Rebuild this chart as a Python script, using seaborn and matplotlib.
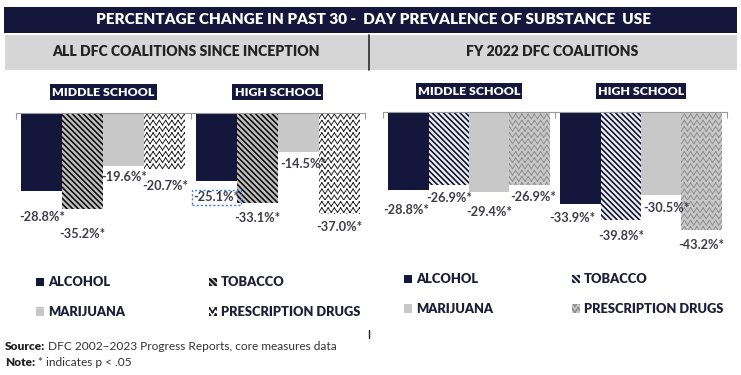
import warnings
import numpy as np
import pandas as pd
import matplotlib
matplotlib.use('Agg')
import matplotlib.pyplot as plt
import matplotlib.hatch as mhatch
from matplotlib.path import Path
from matplotlib.patches import Rectangle, Patch
import seaborn as sns

warnings.filterwarnings('ignore', message='hatch must consist')

# data
schools = ['MIDDLE SCHOOL', 'HIGH SCHOOL']
substances = ['ALCOHOL', 'TOBACCO', 'MARIJUANA', 'PRESCRIPTION DRUGS']
all_ms = [-28.8, -35.2, -19.6, -20.7]
all_hs = [-25.1, -33.1, -14.5, -37.0]
fy_ms = [-28.8, -26.9, -29.4, -26.9]
fy_hs = [-33.9, -39.8, -30.5, -43.2]

title = 'PERCENTAGE CHANGE IN PAST 30 -  DAY PREVALENCE OF SUBSTANCE  USE'
panel_titles = ['ALL DFC COALITIONS SINCE INCEPTION', 'FY 2022 DFC COALITIONS']

NAVY = '#14163b'
GRAY = '#c8c8c8'
BAND = '#d6d6d6'
TXT = '#3c3c4a'


class ZigZagHatch(mhatch.HatchPatternBase):
    # rows of small zigzags, like the Excel "zigzag" pattern fill.
    # drawn as separate 2-point segments so agg's hatch fill has no area
    def __init__(self, hatch, density):
        self.rows = int(hatch.count('z') * density * 2.8)
        self.num_vertices = self.rows * self.rows * 4

    def set_vertices_and_codes(self, vertices, codes):
        n = self.rows
        step = 1.0 / n
        xs = np.linspace(0, 1, 2 * n + 1)
        ys = np.where(np.arange(2 * n + 1) % 2 == 0, 0.0, 0.75 * step)
        k = 0
        for i in range(n):
            for j in range(2 * n):
                vertices[k] = (xs[j], i * step + ys[j])
                vertices[k + 1] = (xs[j + 1], i * step + ys[j + 1])
                codes[k] = Path.MOVETO
                codes[k + 1] = Path.LINETO
                k += 2


mhatch._hatch_types.append(ZigZagHatch)

# per panel style: (face, hatch, hatch colour, hatch lw)
styles = [
    [(NAVY, None, NAVY, 1), ('#111111', '\\\\\\\\\\\\', '#c4c4c4', 1.6),
     (GRAY, None, GRAY, 1), ('white', 'z', '#222222', 0.7)],
    [(NAVY, None, NAVY, 1), (NAVY, '\\\\\\\\\\\\', '#f2f2f2', 1.6),
     (GRAY, None, GRAY, 1), (GRAY, 'z', '#8e8e8e', 0.7)],
]

# label nudges in pixels (dx, dy) below the bar end, per school then substance
nudges = [
    [[(0, -26), (0, -25), (0, -11), (0, -17)], [(0, -16), (0, -15), (5, -12), (0, -13)]],
    [[(-2, -20), (0, -13), (0, -20), (4, -12)], [(-8, -14), (0, -16), (5, -13), (0, -15)]],
]

sns.set_style('white')
plt.rcParams['font.family'] = ['Lato', 'DejaVu Sans']
plt.rcParams['hatch.linewidth'] = 1.2

fig = plt.figure(figsize=(7.41, 3.75), dpi=100)
W, H = 741, 375


def fx(px):
    return px / W


def fy(px):
    return 1 - px / H


def set_hatch_lw(p, lw):
    if hasattr(p, 'set_hatch_linewidth'):
        p.set_hatch_linewidth(lw)
    else:
        p._hatch_linewidth = lw


# header bands
fig.patches.append(Rectangle((fx(4), fy(33)), fx(733), 26 / H, transform=fig.transFigure,
                             facecolor=NAVY, edgecolor='none'))
fig.patches.append(Rectangle((fx(5), fy(70)), fx(363), 35 / H, transform=fig.transFigure,
                             facecolor=BAND, edgecolor='none'))
fig.patches.append(Rectangle((fx(370), fy(70)), fx(367), 35 / H, transform=fig.transFigure,
                             facecolor=BAND, edgecolor='none'))
fig.add_artist(plt.Line2D([fx(368.5)] * 2, [fy(35), fy(70)], transform=fig.transFigure,
                          color='#222222', lw=1.2))
fig.add_artist(plt.Line2D([fx(368.5)] * 2, [fy(330), fy(338)], transform=fig.transFigure,
                          color='#222222', lw=1))
fig.text(fx(373), fy(20), title, color='white', fontsize=11, fontweight='heavy',
         ha='center', va='center')
fig.text(fx(186), fy(52), panel_titles[0], color='#222222', fontsize=10.1, fontweight='heavy',
         ha='center', va='center')
fig.text(fx(552), fy(52), panel_titles[1], color='#222222', fontsize=10.1, fontweight='heavy',
         ha='center', va='center')

panels = [(all_ms, all_hs), (fy_ms, fy_hs)]
ax_boxes = [(16, 113, 349), (383, 112, 344)]
legend_pos = [((30, 270), 6.5), ((398, 267), 6.1)]

for k, (ms, hs) in enumerate(panels):
    left, top, width = ax_boxes[k]
    ax = fig.add_axes([fx(left), fy(top + 136), fx(width), 136 / H])
    df = pd.DataFrame({
        'school': [schools[0]] * 4 + [schools[1]] * 4,
        'substance': substances * 2,
        'change': ms + hs,
    })
    pal = {s: styles[k][i][0] for i, s in enumerate(substances)}
    sns.barplot(data=df, x='school', y='change', hue='substance', order=schools,
                hue_order=substances, palette=pal, saturation=1, width=0.94, gap=0,
                errorbar=None, legend=False, ax=ax)

    for i, cont in enumerate(ax.containers):
        face, hatch, hcol, hlw = styles[k][i]
        for j, bar in enumerate(cont):
            bar.set_edgecolor(hcol)
            bar.set_linewidth(0)
            if hatch:
                bar.set_hatch(hatch)
                set_hatch_lw(bar, hlw)
            val = cont.datavalues[j]
            dx, dy = nudges[k][j][i]
            x = bar.get_x() + bar.get_width() / 2
            kw = {}
            if k == 0 and j == 1 and i == 0:
                kw['bbox'] = dict(boxstyle='square,pad=0.1', fc='none', ec='#3b7dd8',
                                  ls=(0, (1.5, 1.5)), lw=1)
            ax.annotate(f'{val:.1f}%*', (x, val), xytext=(dx, dy), textcoords='offset pixels',
                        ha='center', va='center', fontsize=9.2, fontweight='bold',
                        color=TXT, **kw)

    ax.set_ylim(-50, 0)
    ax.set_xlim(-0.5, 1.5)
    ax.set_xlabel('')
    ax.set_ylabel('')
    ax.set_yticks([])
    ax.xaxis.set_ticks_position('top')
    ax.set_xticks([-0.5, 0.5, 1.5])
    ax.set_xticklabels([])
    ax.tick_params(axis='x', direction='in', length=4, width=0.8, color='#9a9a9a')
    for side in ['left', 'right', 'bottom']:
        ax.spines[side].set_visible(False)
    ax.spines['top'].set_color('#9a9a9a')
    ax.spines['top'].set_linewidth(0.8)
    ax.set_facecolor('none')

    # school headers
    for j, s in enumerate(schools):
        ax.text(j, 1.154, s, transform=ax.get_xaxis_transform(), ha='center', va='center',
                color='white', fontsize=8.9, fontweight='heavy',
                bbox=dict(boxstyle='square,pad=0.18', fc=NAVY, ec='none'))

    # legend
    handles = []
    for i, s in enumerate(substances):
        face, hatch, hcol, hlw = styles[k][i]
        h = Patch(facecolor=face, edgecolor=hcol, hatch=hatch, linewidth=0, label=s)
        if hatch:
            set_hatch_lw(h, hlw)
        handles.append(h)
    order = [0, 2, 1, 3]
    (lx, ly), cs = legend_pos[k]
    leg = ax.legend([handles[o] for o in order], [substances[o] for o in order], ncol=2,
                    loc='upper left', bbox_to_anchor=(fx(lx), fy(ly)),
                    bbox_transform=fig.transFigure, frameon=False, borderpad=0,
                    handlelength=0.62, handleheight=0.62, handletextpad=0.3,
                    columnspacing=cs, labelspacing=1.35,
                    prop={'size': 9.3, 'weight': 'heavy'})
    for t in leg.get_texts():
        t.set_color('#1e1e3a')

src = fig.text(fx(5), fy(346), 'Source:', fontsize=8.6, fontweight='heavy', color='#222222',
               va='center')
plt.gca().annotate(' DFC 2002\u20132023 Progress Reports, core measures data', xy=(1, 0.5),
                   xycoords=src, va='center', fontsize=8.6, color='#333333')
note = fig.text(fx(5), fy(363), 'Note:', fontsize=8.6, fontweight='heavy', color='#222222',
                va='center')
plt.gca().annotate(' * indicates p < .05', xy=(1, 0.5), xycoords=note, va='center',
                   fontsize=8.6, color='#333333')

fig.savefig('out.png', dpi=100)
